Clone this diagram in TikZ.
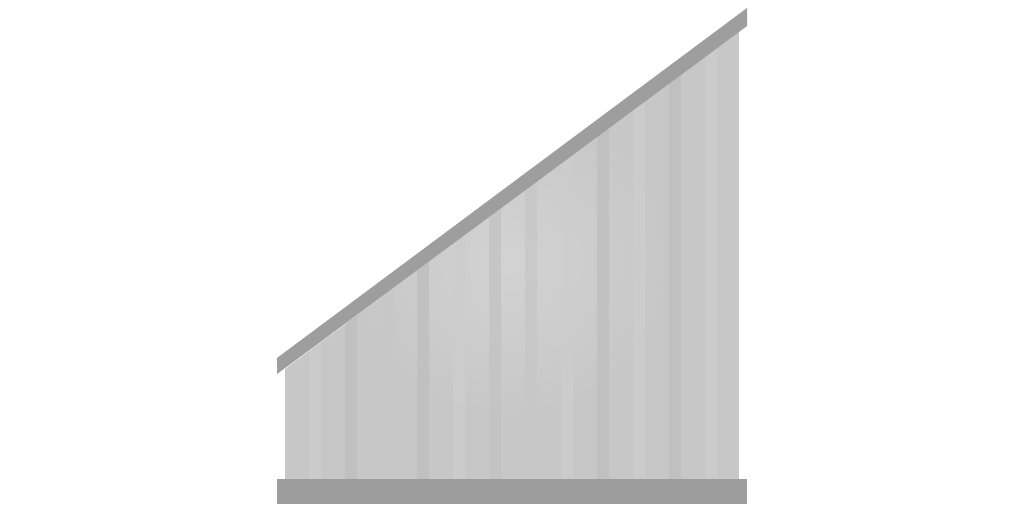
\documentclass[tikz,border=0pt]{standalone}
\begin{document}
\begin{tikzpicture}[x=1pt,y=-1pt,
  board/.style={fill=#1,draw=none},
  roofc/.style={fill=roofgray,draw=none}]
\definecolor{panel}{HTML}{C7C7C7}
\definecolor{panellight}{HTML}{CDCDCD}
\definecolor{paneldark}{HTML}{BFBFBF}
\definecolor{paneldk2}{HTML}{C3C3C3}
\definecolor{roofgray}{HTML}{9E9E9E}
\definecolor{basegray}{HTML}{9C9C9C}
\useasboundingbox (0,0) rectangle (1024,512);
\begin{scope}
  \clip (285,479) -- (739,479) -- (739,30) -- (285,369) -- cycle;
  \fill[panel] (285,0) rectangle (739,479);
  \shade[inner color=panellight!60!white!90!panellight, outer color=panel, opacity=0.5] (510,260) circle (160);
  \foreach \x/\c in {309/panellight,345/paneldark,381/panel,417/paneldark,453/panellight,489/paneldk2,525/panel,561/panellight,597/paneldark,633/panellight,669/paneldark,705/panellight}
    \fill[board=\c, opacity=0.8] (\x,0) rectangle (\x+12,479);
\end{scope}
\fill[roofc] (277,358) coordinate (rl) -- (747,8) coordinate (rr) -- (747,26) -- (277,374) -- cycle;
\fill[basegray] (277,479) rectangle (747,504);
\end{tikzpicture}
\end{document}
